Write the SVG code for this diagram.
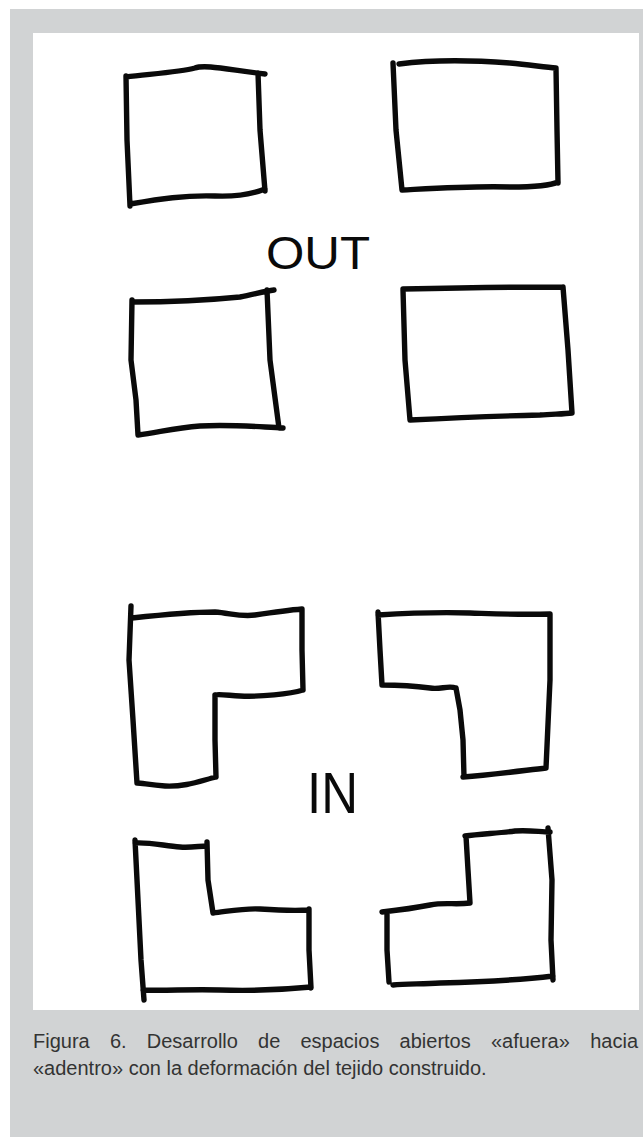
<svg xmlns="http://www.w3.org/2000/svg" width="643" height="1143" viewBox="0 0 643 1143">
<style>
.ink{fill:none;stroke:#0a0a0a;stroke-width:5.4;stroke-linecap:round;stroke-linejoin:round}
.hand{font-family:"Liberation Sans",Arial,sans-serif;fill:#0a0a0a}
.cap{font-family:"Liberation Sans",Arial,sans-serif;font-size:20px;fill:#333333}
</style>
<rect x="0" y="0" width="643" height="1143" fill="#ffffff"/>
<rect x="10" y="9" width="633" height="1128" fill="#d1d3d4"/>
<rect x="33" y="33" width="606" height="977" fill="#ffffff"/>
<g id="box-out-tl">
<path class="ink" d="M126,77 C150,74 180,72 195,68 C205,64 230,70 265,74 M258,73 L260,130 L265,191 M130,204 C160,199 185,195 215,196 C240,197 255,193 265,189 M126,76 L127,140 L130,206"/>
</g>
<g id="box-out-tr">
<path class="ink" d="M399,64 C430,60 470,60 510,63 C530,65 545,67 556,68 M393,63 L396,130 L402,190 M556,68 L557,130 L558,183 M402,190 C440,188 470,186 510,187 C535,187 550,186 558,182"/>
</g>
<g id="label-out">
<text class="hand" x="266" y="269" font-size="46" textLength="104" lengthAdjust="spacingAndGlyphs">OUT</text>
</g>
<g id="box-out-ml">
<path class="ink" d="M132,302 C170,302 210,300 240,297 C255,294 265,291 274,290 M132,300 L131,360 L136,400 L138,435 M267,290 L270,360 L279,428 M138,435 C160,432 175,428 200,426 C230,424 260,427 283,428"/>
</g>
<g id="box-out-mr">
<path class="ink" d="M403,289 C450,288 500,287 563,287 M403,290 L405,360 L410,420 M563,287 L568,350 L572,413 M410,420 C450,418 500,416 540,415 C555,414 565,414 572,413"/>
</g>
<g id="l-in-tl">
<path class="ink" d="M131,606 L129,660 L133,720 L137,783 M132,618 C160,615 190,612 215,612 C230,613 240,617 255,615 C275,612 290,610 302,609 M302,609 L302,650 L303,690 M303,690 C290,694 260,697 240,696 C225,695 218,694 215,695 M215,695 L215,740 L216,777 M216,777 C200,781 185,787 165,786 C150,785 142,783 137,783"/>
</g>
<g id="l-in-tr">
<path class="ink" d="M378,615 C410,613 440,612 470,613 C500,614 520,615 550,614 M550,614 L550,680 L546,768 M546,768 C520,771 490,775 463,777 M464,777 L463,740 L460,710 L456,688 M456,688 C448,685 440,690 430,688 C415,686 400,685 382,685 M382,685 L380,650 L378,612"/>
</g>
<g id="label-in">
<text class="hand" x="307" y="813" font-size="58" textLength="51" lengthAdjust="spacingAndGlyphs">IN</text>
</g>
<g id="l-in-bl">
<path class="ink" d="M135,840 L138,900 L141,960 L144,1000 M135,843 C150,842 165,846 180,847 C190,848 200,846 207,846 M207,842 L208,880 L213,913 M213,913 C230,911 245,908 260,909 C275,910 290,911 309,910 M309,909 L309,950 L311,988 M311,987 C280,990 250,991 220,990 C190,989 165,991 143,990"/>
</g>
<g id="l-in-br">
<path class="ink" d="M465,836 C480,834 500,833 515,831 C530,830 540,832 550,832 M548,828 L552,880 L551,940 L553,980 M553,976 C520,980 480,982 440,983 C420,984 405,984 393,985 M387,912 L387,950 L389,982 M382,912 C400,910 415,908 430,905 C445,902 455,905 470,903 M470,903 L468,870 L466,836"/>
</g>
<g id="caption">
<text class="cap" y="1048"><tspan x="33">Figura</tspan><tspan x="109.9">6.</tspan><tspan x="146.8">Desarrollo</tspan><tspan x="258.1">de</tspan><tspan x="300.5">espacios</tspan><tspan x="399.6">abiertos</tspan><tspan x="490.9">«afuera»</tspan><tspan x="638" text-anchor="end">hacia</tspan></text>
<text class="cap" x="33" y="1075">«adentro» con la deformación del tejido construido.</text>
</g>
</svg>
